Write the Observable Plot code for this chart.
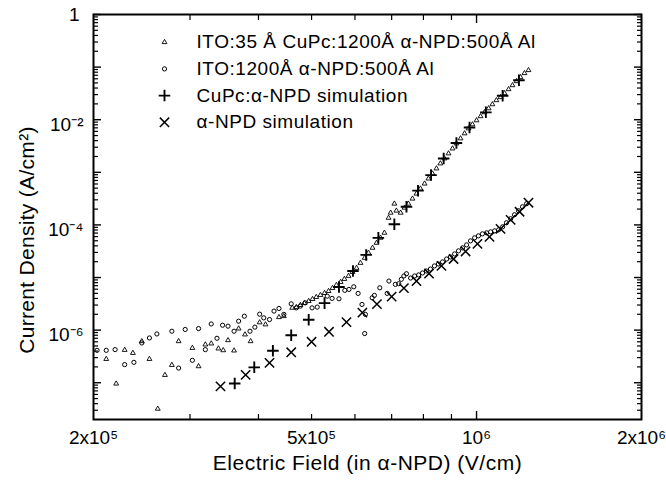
<!DOCTYPE html>
<html><head><meta charset="utf-8">
<script src="https://cdn.jsdelivr.net/npm/d3@7"></script>
<script src="https://cdn.jsdelivr.net/npm/@observablehq/plot@0.6"></script>
<style>
body{margin:0;background:#fff}
#chart{width:666px;height:483px;position:relative}
</style>
</head><body><div id="chart"></div>
<script>
// ---- data ----
// ITO:35 Å CuPc:1200Å α-NPD:500Å Al  (small triangles)
const triX = [2.11e5,2.20e5,2.28e5,2.36e5,2.45e5,2.53e5,2.62e5,2.70e5,2.78e5,2.86e5,3.03e5,3.11e5,3.20e5,3.28e5,3.38e5,3.45e5,3.52e5,3.61e5,3.68e5,3.78e5,3.87e5,4.02e5,4.12e5,4.36e5,4.45e5,4.61e5,
  4.69e5,4.77e5,4.85e5,4.94e5,5.02e5,5.10e5,5.19e5,5.28e5,5.37e5,5.46e5,5.55e5,5.65e5,5.74e5,5.84e5,5.94e5,6.04e5,6.14e5,6.25e5,6.35e5,6.46e5,6.57e5,6.68e5,6.79e5,6.91e5,6.97e5,7.08e5,7.14e5,7.27e5,7.39e5,7.51e5,7.64e5,7.77e5,7.90e5,8.04e5,8.17e5,8.31e5,8.45e5,8.59e5,8.74e5,8.89e5,9.04e5,9.19e5,9.35e5,9.51e5,9.67e5,9.83e5,1.00e6,1.017e6,1.034e6,1.052e6,1.069e6,1.087e6,1.106e6,1.125e6,1.144e6,1.163e6,1.183e6,1.203e6,1.223e6,1.244e6];
const triY = [2.82e-7,9.6e-8,4.19e-7,3.67e-7,6.14e-7,2.82e-7,3.19e-8,1.40e-7,2.17e-7,6.14e-7,4.57e-7,2.05e-7,5.31e-7,5.55e-7,4.46e-7,4.13e-7,6.41e-7,4.08e-7,1.07e-6,8.24e-7,6.14e-7,1.40e-6,1.28e-6,1.76e-6,1.84e-6,2.65e-6,
  2.73e-6,2.99e-6,3.26e-6,3.56e-6,3.89e-6,4.25e-6,4.64e-6,5.06e-6,5.52e-6,6.30e-6,7.19e-6,8.21e-6,9.36e-6,1.07e-5,1.27e-5,1.52e-5,1.89e-5,2.36e-5,2.94e-5,3.66e-5,4.55e-5,5.68e-5,7.07e-5,1.36e-4,1.70e-4,2.53e-4,1.86e-4,1.70e-4,2.12e-4,2.53e-4,3.15e-4,3.92e-4,4.89e-4,6.09e-4,7.59e-4,9.45e-4,1.18e-3,1.47e-3,1.83e-3,2.28e-3,2.83e-3,3.53e-3,4.40e-3,5.48e-3,6.82e-3,8.13e-3,9.70e-3,1.16e-2,1.38e-2,1.64e-2,1.96e-2,2.34e-2,2.67e-2,3.18e-2,3.79e-2,4.51e-2,5.38e-2,6.42e-2,7.65e-2,8.73e-2];

// ITO:1200Å α-NPD:500Å Al  (small open circles)
const circX = [2.03e5,2.11e5,2.19e5,2.28e5,2.37e5,2.45e5,2.53e5,2.61e5,2.78e5,2.86e5,2.94e5,3.03e5,3.11e5,3.20e5,3.28e5,3.36e5,3.44e5,3.52e5,3.61e5,3.68e5,3.77e5,3.86e5,3.94e5,4.02e5,4.09e5,4.19e5,4.27e5,4.36e5,4.45e5,4.59e5,4.69e5,4.77e5,4.87e5,5.01e5,5.12e5,5.34e5,5.45e5,5.61e5,5.75e5,5.85e5,5.97e5,6.08e5,6.18e5,6.25e5,6.27e5,6.45e5,6.51e5,6.66e5,6.87e5,6.92e5,7.11e5,7.21e5,7.29e5,7.37e5,7.45e5,
  7.58e5,7.71e5,7.84e5,7.97e5,8.10e5,8.24e5,8.38e5,8.52e5,8.67e5,8.82e5,8.96e5,9.12e5,9.27e5,9.43e5,9.59e5,9.75e5,9.92e5,1.008e6,1.025e6,1.043e6,1.061e6,1.079e6,1.097e6,1.116e6,1.134e6,1.154e6,1.173e6,1.193e6,1.213e6,1.234e6];
const circY = [4.13e-7,4.13e-7,4.26e-7,2.21e-7,2.44e-7,5.70e-7,7.10e-7,8.46e-7,9.53e-7,1.90e-7,1.03e-6,2.67e-7,1.07e-6,4.26e-7,1.31e-6,7.00e-7,1.24e-6,1.19e-6,9.53e-7,1.48e-6,1.84e-6,9.53e-7,1.14e-6,2.01e-6,1.71e-6,1.59e-6,2.30e-6,2.58e-6,1.99e-6,3.16e-6,2.65e-6,2.86e-6,3.30e-6,2.65e-6,2.74e-6,4.43e-6,4.01e-6,3.94e-6,5.70e-6,5.95e-6,6.67e-6,4.99e-6,3.08e-6,8.61e-7,1.99e-6,4.12e-6,4.57e-6,6.38e-6,4.99e-6,8.57e-6,7.41e-6,7.62e-6,9.24e-6,1.07e-5,1.18e-5,
  9.78e-6,1.07e-5,1.12e-5,1.22e-5,1.33e-5,1.45e-5,1.66e-5,1.81e-5,1.98e-5,2.25e-5,2.46e-5,2.81e-5,3.21e-5,3.66e-5,4.17e-5,4.97e-5,5.68e-5,6.19e-5,6.76e-5,7.07e-5,7.38e-5,7.71e-5,8.05e-5,9.20e-5,1.10e-4,1.31e-4,1.56e-4,1.86e-4,2.21e-4,2.53e-4];

// CuPc:α-NPD simulation (+)
const cupcSimX = [3.62e5,3.93e5,4.25e5,4.59e5,4.94e5,5.28e5,5.61e5,5.95e5,6.29e5,6.62e5,7.08e5,7.45e5,7.82e5,8.26e5,8.71e5,9.19e5,9.71e5,1.04e6,1.116e6,1.195e6];
const cupcSimY = [9.7e-8,1.96e-7,4.05e-7,8.0e-7,1.58e-6,3.26e-6,6.59e-6,1.33e-5,2.69e-5,5.67e-5,1.03e-4,2.21e-4,4.48e-4,8.85e-4,1.83e-3,3.61e-3,7.13e-3,1.38e-2,2.85e-2,5.62e-2];

// α-NPD simulation (×)
const npdSimX = [3.41e5,3.79e5,4.19e5,4.59e5,5.00e5,5.38e5,5.79e5,6.19e5,6.58e5,7.00e5,7.37e5,7.77e5,8.19e5,8.63e5,9.08e5,9.55e5,1.004e6,1.056e6,1.106e6,1.154e6,1.198e6,1.244e6];
const npdSimY = [8.5e-8,1.41e-7,2.39e-7,3.79e-7,6.01e-7,9.31e-7,1.42e-6,2.15e-6,3.12e-6,4.34e-6,6.3e-6,8.57e-6,1.19e-5,1.66e-5,2.25e-5,3.13e-5,4.36e-5,5.93e-5,8.43e-5,1.25e-4,1.78e-4,2.64e-4];

const legendLabels = ["ITO:35 Å CuPc:1200Å α-NPD:500Å Al","ITO:1200Å α-NPD:500Å Al","CuPc:α-NPD simulation","α-NPD simulation"];
const legendSymbols = ["triangle","circle","plus","times"];

const xTickValues = [2e5,5e5,1e6,2e6];
const xTickLabels = ["2x10⁵","5x10⁵","10⁶","2x10⁶"];
const yTickValues = [1,1e-2,1e-4,1e-6];
const yTickLabels = ["1","10⁻²","10⁻⁴","10⁻⁶"];
const xTitle = "Electric Field (in α-NPD) (V/cm)";
const yTitle = "Current Density (A/cm²)";
const xDomain = [2e5,2e6];
const yDomain = [2e-8,1];

// ---- build ----
const zip = (xs, ys) => xs.map((x,i)=>({x, y: ys[i]}));
const tri = zip(triX, triY), circ = zip(circX, circY), cupc = zip(cupcSimX, cupcSimY), npd = zip(npdSimX, npdSimY);

const yMajor = [], yMinor = [];
for (let e = -8; e <= 0; e++) {
  const b = Math.pow(10, e);
  if (b >= yDomain[0] && b <= yDomain[1]) yMajor.push(b);
  for (let m = 2; m <= 9; m++) { const v = m*b; if (v > yDomain[0] && v < yDomain[1]) yMinor.push(v); }
}
const xMinor = [3e5,4e5,5e5,6e5,7e5,8e5,9e5];
const xMajor = [1e6];

const FONT = "'Liberation Sans', Arial, Helvetica, sans-serif";
const fmt = (vals, labs) => d => { const i = vals.findIndex(v => Math.abs(v-d)/v < 1e-9); return i < 0 ? "" : labs[i]; };
const none = () => "";
const symR = {triangle: 1.8, circle: 2.1, plus: 3.8, times: 4.3};
const symW = {triangle: 0.9, circle: 1, plus: 1.9, times: 1.5};
const legendDy = i => 27.7 + i*26.7;

const marks = [
  Plot.frame({stroke: "black", strokeWidth: 2}),
  // inward ticks
  Plot.axisY(yMajor, {anchor: "left", tickSize: 8, dx: 8, tickFormat: none, label: null, strokeWidth: 1.4}),
  Plot.axisY(yMinor, {anchor: "left", tickSize: 5, dx: 5, tickFormat: none, label: null, strokeWidth: 1.2}),
  Plot.axisY(yMajor, {anchor: "right", tickSize: 8, dx: -8, tickFormat: none, label: null, strokeWidth: 1.4}),
  Plot.axisY(yMinor, {anchor: "right", tickSize: 5, dx: -5, tickFormat: none, label: null, strokeWidth: 1.2}),
  Plot.axisX(xMinor, {anchor: "bottom", tickSize: 5, dy: -5, tickFormat: none, label: null, strokeWidth: 1.2}),
  Plot.axisX(xMajor, {anchor: "bottom", tickSize: 8, dy: -8, tickFormat: none, label: null, strokeWidth: 1.4}),
  Plot.axisX(xMinor, {anchor: "top", tickSize: 5, dy: 5, tickFormat: none, label: null, strokeWidth: 1.2}),
  Plot.axisX(xMajor, {anchor: "top", tickSize: 8, dy: 8, tickFormat: none, label: null, strokeWidth: 1.4}),
  // tick labels
  Plot.axisX(xTickValues, {anchor: "bottom", tickSize: 0, tickPadding: 11, tickFormat: fmt(xTickValues, xTickLabels), label: null, fontSize: 19}),
  Plot.axisY(yTickValues.slice(0,1), {anchor: "left", tickSize: 0, tickPadding: 14, tickFormat: fmt(yTickValues, yTickLabels), label: null, fontSize: 19}),
  Plot.axisY(yTickValues.slice(1), {anchor: "left", tickSize: 0, tickPadding: 10, dy: 5, tickFormat: fmt(yTickValues, yTickLabels), label: null, fontSize: 19}),
  // titles
  Plot.text([xTitle], {frameAnchor: "bottom", dy: 44, text: d => d, fontSize: 21, lineAnchor: "middle", textAnchor: "middle"}),
  Plot.text([yTitle], {frameAnchor: "middle", text: d => d, fontSize: 21, lineAnchor: "middle", textAnchor: "middle"}),
  // data
  Plot.dot(tri, {x: "x", y: "y", symbol: "triangle", r: symR.triangle, stroke: "black", strokeWidth: symW.triangle, fill: "none"}),
  Plot.dot(circ, {x: "x", y: "y", symbol: "circle", r: symR.circle, stroke: "black", strokeWidth: symW.circle, fill: "none"}),
  Plot.dot(cupc, {x: "x", y: "y", symbol: "plus", r: symR.plus, stroke: "black", strokeWidth: symW.plus}),
  Plot.dot(npd, {x: "x", y: "y", symbol: "times", r: symR.times, stroke: "black", strokeWidth: symW.times}),
  // legend
  ...legendSymbols.map((s, i) => Plot.dot([legendLabels[i]], {
    frameAnchor: "top-left", dx: 71, dy: legendDy(i), symbol: s,
    r: symR[s], stroke: "black", fill: "none", strokeWidth: symW[s]
  })),
  ...legendLabels.map((lab, i) => Plot.text([lab], {
    frameAnchor: "top-left", dx: 103, dy: legendDy(i), text: d => d,
    textAnchor: "start", lineAnchor: "middle", fontSize: 19
  }))
];

const chart = Plot.plot({
  width: 666, height: 483,
  marginLeft: 93, marginRight: 25, marginTop: 14, marginBottom: 64,
  x: {type: "log", domain: xDomain},
  y: {type: "log", domain: yDomain},
  style: {fontFamily: FONT, fontSize: "19px", background: "white", color: "black", overflow: "visible"},
  marks
});
document.getElementById("chart").appendChild(chart);
// letter spacing to match the scanned lettering; place the rotated y title
d3.select(chart).selectAll("text").each(function() {
  const t = this.textContent;
  const sel = d3.select(this);
  if (legendLabels.includes(t)) sel.style("letter-spacing", "0.55px");
  if (t === xTitle) sel.style("letter-spacing", "0.5px");
  if (t === yTitle) {
    d3.select(this.parentNode).attr("transform", null);
    sel.attr("x", null).attr("y", null).attr("dx", null).attr("dy", "0.32em")
      .attr("text-anchor", "middle")
      .attr("transform", "translate(27,240) rotate(-90)")
      .style("letter-spacing", "0.3px");
  }
});
</script>
</body></html>
